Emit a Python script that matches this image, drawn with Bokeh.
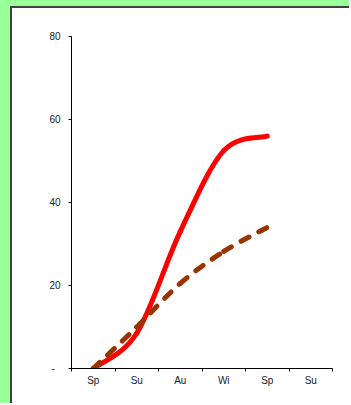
from bokeh.plotting import figure
from bokeh.models import FixedTicker, Range1d, ColumnDataSource
from bokeh.layouts import column
from bokeh.embed import file_html
from bokeh.resources import INLINE

# Seasonal categories along the bottom axis
seasons = ["Sp", "Su", "Au", "Wi", "Sp", "Su"]

# Cumulative values per season
solid_series = [0, 8.5, 33, 52.5, 56]
dashed_series = [0, 10, 20.5, 28.2, 34]

# Value axis ticks
y_ticks = [0, 20, 40, 60, 80]
y_tick_labels = ["-\u00a0\u00a0", "20", "40", "60", "80"]

FONT = "Liberation Sans"


def smooth_segments(values):
    """Cubic Bezier segments (Catmull-Rom style) through category centres."""
    xs = [i + 0.5 for i in range(len(values))]
    ys = list(values)
    n = len(xs)
    seg = dict(x0=[], y0=[], x1=[], y1=[], cx0=[], cy0=[], cx1=[], cy1=[])
    for i in range(n - 1):
        xp, yp = (xs[i - 1], ys[i - 1]) if i > 0 else (xs[i], ys[i])
        xn, yn = (xs[i + 2], ys[i + 2]) if i + 2 < n else (xs[i + 1], ys[i + 1])
        seg["x0"].append(xs[i])
        seg["y0"].append(ys[i])
        seg["x1"].append(xs[i + 1])
        seg["y1"].append(ys[i + 1])
        seg["cx0"].append(xs[i] + (xs[i + 1] - xp) / 6)
        seg["cy0"].append(ys[i] + (ys[i + 1] - yp) / 6)
        seg["cx1"].append(xs[i + 1] - (xn - xs[i]) / 6)
        seg["cy1"].append(ys[i + 1] - (yn - ys[i]) / 6)
    return ColumnDataSource(seg)


p = figure(
    width=339,
    height=397,
    x_range=Range1d(0, len(seasons)),
    y_range=Range1d(0, 80),
    output_backend="svg",
    toolbar_location=None,
    min_border_left=59,
    min_border_right=19,
    min_border_top=28,
    min_border_bottom=37,
    border_fill_color="white",
    background_fill_color="white",
    outline_line_color=None,
)
p.styles = {
    "border-left": "2px solid #404040",
    "border-top": "2px solid #404040",
    "background-color": "white",
}

p.xgrid.visible = False
p.ygrid.visible = False

# Bottom axis: labels centred in each category, ticks on the boundaries
xa = p.xaxis[0]
xa.ticker = FixedTicker(
    ticks=[i + 0.5 for i in range(len(seasons))],
    minor_ticks=list(range(len(seasons) + 1)),
)
xa.major_label_overrides = {i + 0.5: s for i, s in enumerate(seasons)}
xa.major_tick_line_color = None
xa.major_tick_out = 3
xa.major_tick_in = 0
xa.minor_tick_line_color = "black"
xa.minor_tick_out = 3
xa.minor_tick_in = 0
xa.axis_line_color = "black"
xa.major_label_standoff = 3
xa.major_label_text_font = FONT
xa.major_label_text_font_size = "10px"
xa.major_label_text_color = "#222222"

# Left axis
ya = p.yaxis[0]
ya.ticker = FixedTicker(ticks=y_ticks, minor_ticks=[])
ya.major_label_overrides = {t: lbl for t, lbl in zip(y_ticks, y_tick_labels)}
ya.major_tick_out = 3
ya.major_tick_in = 0
ya.major_tick_line_color = "black"
ya.axis_line_color = "black"
ya.major_label_standoff = 8
ya.major_label_text_font = FONT
ya.major_label_text_font_size = "10px"
ya.major_label_text_color = "#222222"

# Smoothed series
p.bezier(
    x0="x0", y0="y0", x1="x1", y1="y1", cx0="cx0", cy0="cy0", cx1="cx1", cy1="cy1",
    source=smooth_segments(solid_series),
    line_color="#FF0000", line_width=5, line_cap="round", line_join="round",
)
p.bezier(
    x0="x0", y0="y0", x1="x1", y1="y1", cx0="cx0", cy0="cy0", cx1="cx1", cy1="cy1",
    source=smooth_segments(dashed_series),
    line_color="#993300", line_width=5, line_cap="round", line_dash="9 11",
)

# Green page margin on the left and top of the chart panel
page = column(
    p,
    styles={
        "background-color": "white",
        "border-left": "10px solid #99FF99",
        "border-top": "6px solid #99FF99",
    },
)

open("out.html", "w").write(file_html(page, INLINE))
